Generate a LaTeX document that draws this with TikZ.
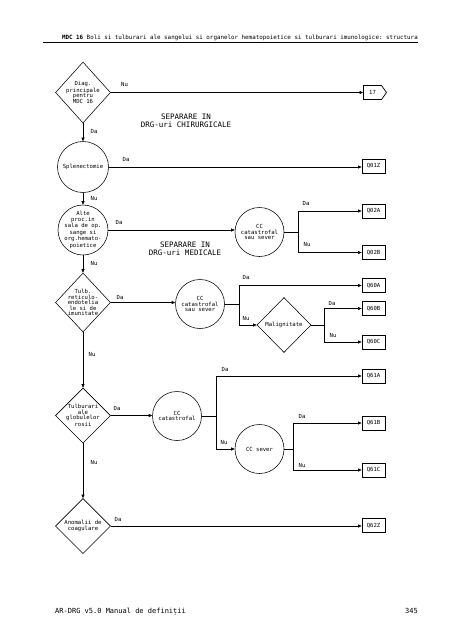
\documentclass[tikz,border=0pt]{standalone}
\usepackage{fontspec}
\setmonofont{DejaVu Sans Mono}
\usetikzlibrary{shapes.geometric,shapes.symbols,arrows.meta}
\newcommand\dfont{\ttfamily\fontsize{5.6}{5.4}\selectfont}
\newcommand\hfont{\ttfamily\fontsize{5.85}{7}\selectfont}
\newcommand\sfontx{\ttfamily\fontsize{7.5}{8}\selectfont}
\newcommand\ffont{\ttfamily\fontsize{7}{8}\selectfont}
\begin{document}
\begin{tikzpicture}[x=1pt,y=-1pt,
  every node/.style={inner sep=0pt},
  tx/.style={font=\dfont,align=center},
  lb/.style={font=\dfont},
  dia/.style={draw,diamond,minimum width=55pt,minimum height=56pt,line width=0.55pt},
  circ/.style={draw,circle,minimum size=49pt,line width=0.55pt},
  qbox/.style={draw,rectangle,minimum width=23pt,minimum height=14pt,line width=0.8pt,font=\dfont},
  ar/.style={line width=0.55pt,-{Triangle[length=3.5pt,width=3pt]}},
  ln/.style={line width=0.55pt}]
\useasboundingbox (0,0) rectangle (452,640);
% header / footer
\node[anchor=base east,font=\hfont] (hdr) at (418,39.5) {\textbf{MDC 16} Boli si tulburari ale sangelui si organelor hematopoietice si tulburari imunologice: structura};
\coordinate (hl) at (43,42.5);
\coordinate (hr) at (418,42.5);
\draw[line width=0.8pt] (hl) -- (hr);
\node[anchor=base west,font=\ffont] (ftl) at (55,613) {AR-DRG v5.0 Manual de definiții};
\node[anchor=base east,font=\ffont] (ftr) at (418,613) {345};
% separator texts
\node[font=\sfontx,align=center] (sep1) at (186,120.5) {SEPARARE IN\\DRG-uri CHIRURGICALE};
\node[font=\sfontx,align=center] (sep2) at (185,248.5) {SEPARARE IN\\DRG-uri MEDICALE};
% main column
\node[dia,minimum height=61pt] (d1) at (83,92.5) {};
\node[tx] (d1t) at (d1) {Diag.\\principale\\pentru\\MDC 16};
\node[circ,minimum size=51pt] (c1) at (83,167) {};
\node[tx] (c1t) at (c1) {Splenectomie};
\node[circ,minimum size=50pt] (c2) at (83,230) {};
\node[tx] (c2t) at (c2) {Alte\\proc.in\\sala de op.\\sange si\\org.hemato-\\poietice};
\node[dia,minimum height=59pt] (d3) at (83,302.5) {};
\node[tx] (d3t) at (d3) {Tulb.\\reticulo-\\endotelia\\le si de\\imunitate};
\node[dia,minimum height=55pt] (d5) at (83,415.5) {};
\node[tx] (d5t) at (d5) {Tulburari\\ale\\globulelor\\rosii};
\node[dia,minimum height=55pt] (d6) at (83,526) {};
\node[tx] (d6t) at (d6) {Anomalii de\\coagulare};
% second column
\node[circ] (c3) at (259.5,232) {};
\node[tx] (c3t) at (c3) {CC\\catastrofal\\sau sever};
\node[circ] (c4) at (200,304) {};
\node[tx] (c4t) at (c4) {CC\\catastrofal\\sau sever};
\node[dia,minimum width=54pt,minimum height=55pt] (d4) at (284,325) {};
\node[tx] (d4t) at (d4) {Malignitate};
\node[circ] (c5) at (177,416) {};
\node[tx] (c5t) at (c5) {CC\\catastrofal};
\node[circ] (c6) at (259.5,449) {};
\node[tx] (c6t) at (c6) {CC sever};
% outcomes
\node[draw,signal,signal to=east,signal pointer angle=110,minimum width=23pt,minimum height=14pt,line width=0.7pt,font=\dfont] (n17) at (372.5,92.5) {17};
\node[qbox] (q01z) at (373.5,166) {Q01Z};
\node[qbox] (q02a) at (373.5,211) {Q02A};
\node[qbox] (q02b) at (373.5,252.5) {Q02B};
\node[qbox] (q60a) at (373.5,285.5) {Q60A};
\node[qbox] (q60b) at (373.5,308.5) {Q60B};
\node[qbox] (q60c) at (373.5,342) {Q60C};
\node[qbox] (q61a) at (373.5,376) {Q61A};
\node[qbox] (q61b) at (373.5,423) {Q61B};
\node[qbox] (q61c) at (373.5,470) {Q61C};
\node[qbox] (q62z) at (373.5,525.5) {Q62Z};
% junctions
\coordinate (j1) at (298,232);
\coordinate (j2) at (239,304);
\coordinate (j3) at (324,325);
\coordinate (j4) at (216,416);
\coordinate (j5) at (293,449);
% vertical main arrows
\draw[ar] (d1.south) -- (c1.north);
\draw[ar] (c1.south) -- (c2.north);
\draw[ar] (c2.south) -- (d3.north);
\draw[ar] (d3.south) -- (d5.north);
\draw[ar] (d5.south) -- (d6.north);
% horizontal arrows
\draw[ar] (d1.east) -- (d1.east -| n17.west);
\draw[ar] (c1.east) -- (c1.east -| q01z.west);
\draw[ar] (c2.east) -- (c2.east -| c3.west);
\draw[ar] (d3.east) -- (d3.east -| c4.west);
\draw[ar] (d5.east) -- (d5.east -| c5.west);
\draw[ar] (d6.east) -- (d6.east -| q62z.west);
% branches
\draw[ln] (c3.east) -- (j1);
\draw[ln] (j1 |- q02a) -- (j1 |- q02b);
\draw[ar] (j1 |- q02a) -- (q02a.west);
\draw[ar] (j1 |- q02b) -- (q02b.west);
\draw[ln] (c4.east) -- (j2);
\draw[ln] (j2 |- q60a) -- (j2 |- d4);
\draw[ar] (j2 |- q60a) -- (q60a.west);
\draw[ar] (j2 |- d4) -- (d4.west);
\draw[ln] (d4.east) -- (j3);
\draw[ln] (j3 |- q60b) -- (j3 |- q60c);
\draw[ar] (j3 |- q60b) -- (q60b.west);
\draw[ar] (j3 |- q60c) -- (q60c.west);
\draw[ln] (c5.east) -- (j4);
\draw[ln] (j4 |- q61a) -- (j4 |- c6);
\draw[ar] (j4 |- q61a) -- (q61a.west);
\draw[ar] (j4 |- c6) -- (c6.west);
\draw[ln] (c6.east) -- (j5);
\draw[ln] (j5 |- q61b) -- (j5 |- q61c);
\draw[ar] (j5 |- q61b) -- (q61b.west);
\draw[ar] (j5 |- q61c) -- (q61c.west);
% labels
\node[lb] (l1) at (124.5,84) {Nu};
\node[lb] (l2) at (94,131) {Da};
\node[lb] (l3) at (126,159) {Da};
\node[lb] (l4) at (94,198) {Nu};
\node[lb] (l5) at (119,222) {Da};
\node[lb] (l6) at (94,263) {Nu};
\node[lb] (l7) at (306,203) {Da};
\node[lb] (l8) at (307,244) {Nu};
\node[lb] (l9) at (120,297) {Da};
\node[lb] (l10) at (246,277) {Da};
\node[lb] (l11) at (246,318) {Nu};
\node[lb] (l12) at (92,354) {Nu};
\node[lb] (l13) at (225,369) {Da};
\node[lb] (l14) at (332,303) {Da};
\node[lb] (l15) at (333,335) {Nu};
\node[lb] (l16) at (117,408) {Da};
\node[lb] (l17) at (224,442) {Nu};
\node[lb] (l18) at (94,462) {Nu};
\node[lb] (l19) at (302,416) {Da};
\node[lb] (l20) at (302,465) {Nu};
\node[lb] (l21) at (118,519) {Da};
\end{tikzpicture}
\end{document}
